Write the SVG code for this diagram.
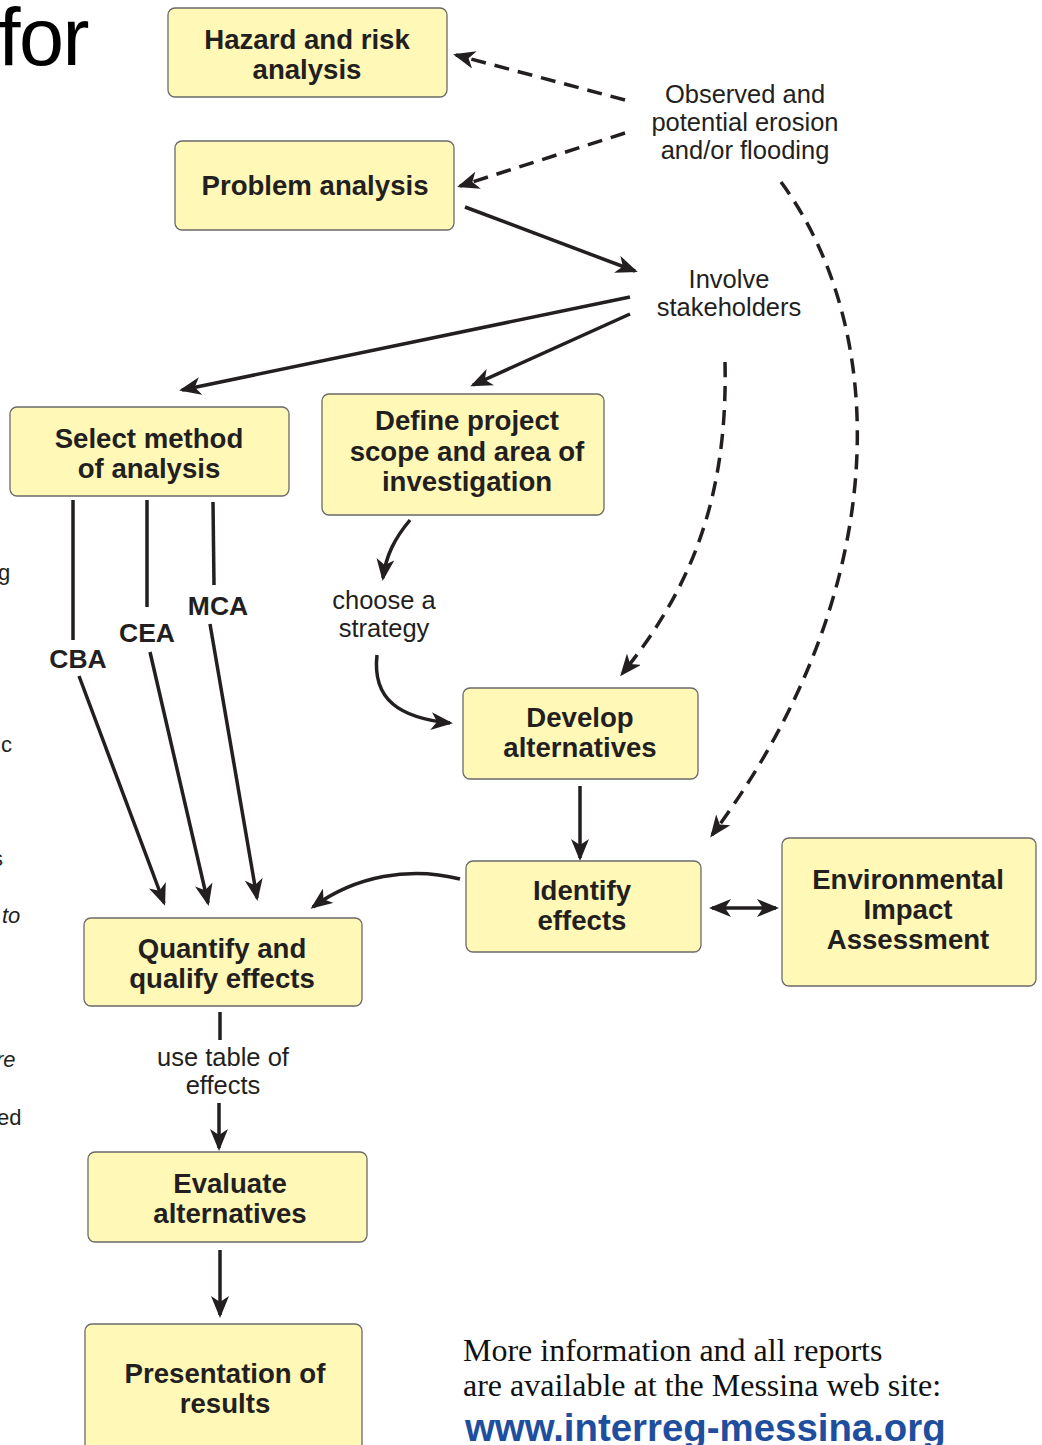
<svg xmlns="http://www.w3.org/2000/svg" width="1042" height="1445" viewBox="0 0 1042 1445">
<style>
.box{fill:#FFF8B6;stroke:#6a6a6a;stroke-width:1.3}
.bt{font-family:"Liberation Sans",Arial,sans-serif;font-weight:bold;font-size:27.6px;fill:#231f20;text-anchor:middle}
.lt{font-family:"Liberation Sans",Arial,sans-serif;font-size:25.5px;fill:#231f20;text-anchor:middle}
.ml{font-family:"Liberation Sans",Arial,sans-serif;font-weight:bold;font-size:26.5px;fill:#231f20;text-anchor:middle}
.frag{font-family:"Liberation Sans",Arial,sans-serif;font-size:22px;fill:#231f20}
.c{fill:none;stroke:#231f20;stroke-width:3.5}
.d{stroke-dasharray:15 9}
.a{marker-end:url(#ah)}
.ft{font-family:"Liberation Serif","Times New Roman",serif;font-size:32px;fill:#111}
</style>
<defs>
<marker id="ah" viewBox="0 0 22 18" refX="19" refY="9" markerWidth="22" markerHeight="18" markerUnits="userSpaceOnUse" orient="auto-start-reverse">
<path d="M0,0 L22,9 L0,18 L6,9 Z" fill="#231f20"/>
</marker>
</defs>
<rect width="1042" height="1445" fill="#ffffff"/>
<g id="fragments">
<text x="-2" y="65" style="font-family:'Liberation Sans',Arial,sans-serif;font-size:81px;fill:#000;letter-spacing:-1.5px">for</text>
<text x="-2" y="580" class="frag">g</text>
<text x="1" y="752" class="frag">c</text>
<text x="-8" y="866" class="frag">s</text>
<text x="2" y="923" class="frag" font-style="italic">to</text>
<text x="-4" y="1067" class="frag" font-style="italic">re</text>
<text x="-3" y="1125" class="frag">ed</text>
</g>
<g id="connectors">
<path class="c d a" d="M625,100 L456,55"/>
<path class="c d a" d="M625,133 L460,186"/>
<path class="c a" d="M465,207 L635,271"/>
<path class="c a" d="M630,297 L182,390"/>
<path class="c a" d="M630,314 L473,385"/>
<path class="c d a" d="M725,362 C728,500 690,590 622,674"/>
<path class="c d a" d="M781,182 C890,330 895,590 712,835"/>
<path class="c a" d="M410,520 C395,538 386,555 383,578"/>
<path class="c a" d="M377,655 C372,700 400,718 450,723"/>
<path class="c a" d="M580,786 L580,858"/>
<path class="c a" d="M460,879 C410,866 355,876 313,907"/>
<path class="c a" d="M712,908 L776,908" style="marker-start:url(#ah)"/>
<path class="c" d="M73,500 L73,640"/>
<path class="c a" d="M79,676 L164,903"/>
<path class="c" d="M147,500 L147,607"/>
<path class="c a" d="M150,652 L208,903"/>
<path class="c" d="M213,502 L214,585"/>
<path class="c a" d="M210,624 L257,898"/>
<path class="c" d="M220,1012 L220,1040"/>
<path class="c a" d="M219,1103 L219,1148"/>
<path class="c a" d="M220,1250 L220,1315"/>
<text x="78" y="668" class="ml">CBA</text>
<text x="147" y="642" class="ml">CEA</text>
<text x="218" y="615" class="ml">MCA</text>
</g>
<g id="labels">
<text class="lt" x="745" y="103">Observed and</text>
<text class="lt" x="745" y="131">potential erosion</text>
<text class="lt" x="745" y="159">and/or flooding</text>
<text class="lt" x="729" y="288">Involve</text>
<text class="lt" x="729" y="316">stakeholders</text>
<text class="lt" x="384" y="609">choose a</text>
<text class="lt" x="384" y="637">strategy</text>
<text class="lt" x="223" y="1066">use table of</text>
<text class="lt" x="223" y="1094">effects</text>
</g>
<g id="n-hazard"><rect class="box" x="168" y="8" width="279" height="89" rx="7"/><text class="bt" x="307" y="49">Hazard and risk</text><text class="bt" x="307" y="79">analysis</text></g>
<g id="n-problem"><rect class="box" x="175" y="141" width="279" height="89" rx="7"/><text class="bt" x="315" y="195">Problem analysis</text></g>
<g id="n-select"><rect class="box" x="10" y="407" width="279" height="89" rx="7"/><text class="bt" x="149" y="448">Select method</text><text class="bt" x="149" y="478">of analysis</text></g>
<g id="n-define"><rect class="box" x="322" y="394" width="282" height="121" rx="7"/><text class="bt" x="467" y="430">Define project</text><text class="bt" x="467" y="461">scope and area of</text><text class="bt" x="467" y="491">investigation</text></g>
<g id="n-develop"><rect class="box" x="463" y="688" width="235" height="91" rx="7"/><text class="bt" x="580" y="727">Develop</text><text class="bt" x="580" y="757">alternatives</text></g>
<g id="n-identify"><rect class="box" x="466" y="861" width="235" height="91" rx="7"/><text class="bt" x="582" y="900">Identify</text><text class="bt" x="582" y="930">effects</text></g>
<g id="n-eia"><rect class="box" x="782" y="838" width="254" height="148" rx="7"/><text class="bt" x="908" y="889">Environmental</text><text class="bt" x="908" y="919">Impact</text><text class="bt" x="908" y="949">Assessment</text></g>
<g id="n-quantify"><rect class="box" x="84" y="918" width="278" height="88" rx="7"/><text class="bt" x="222" y="958">Quantify and</text><text class="bt" x="222" y="988">qualify effects</text></g>
<g id="n-evaluate"><rect class="box" x="88" y="1152" width="279" height="90" rx="7"/><text class="bt" x="230" y="1193">Evaluate</text><text class="bt" x="230" y="1223">alternatives</text></g>
<g id="n-presentation"><rect class="box" x="85" y="1324" width="277" height="140" rx="7"/><text class="bt" x="225" y="1383">Presentation of</text><text class="bt" x="225" y="1413">results</text></g>
<g id="footer">
<text x="463" y="1361" class="ft">More information and all reports</text>
<text x="463" y="1396" class="ft">are available at the Messina web site:</text>
<text x="465" y="1441" style="font-family:'Liberation Sans',Arial,sans-serif;font-weight:bold;font-size:38.4px;fill:#1f4e9e">www.interreg-messina.org</text>
</g>
</svg>
